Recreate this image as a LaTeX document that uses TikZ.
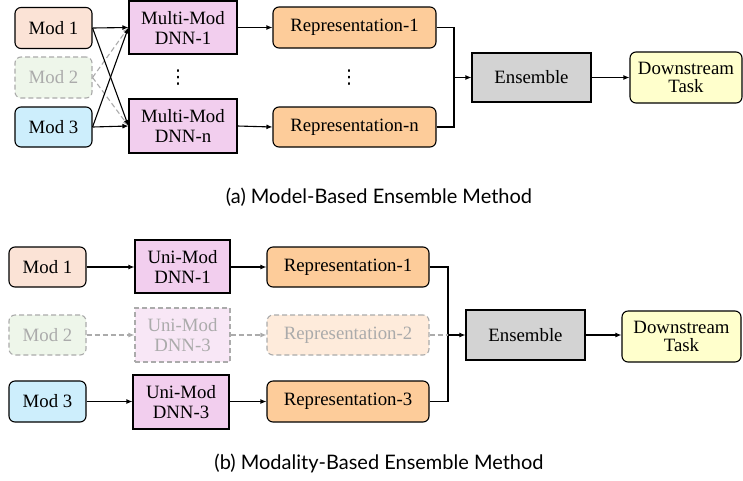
\documentclass[tikz,border=0pt]{standalone}
\usepackage{fontspec}
\setmainfont{Liberation Serif}
\newfontfamily\capfont{Lato}
\newfontfamily\symfont{DejaVu Sans}
\usetikzlibrary{arrows.meta}
\definecolor{cmodA}{HTML}{FBE3D6}
\definecolor{cmodB}{HTML}{EEF6EA}
\definecolor{cmodC}{HTML}{CDEEFC}
\definecolor{cdnn}{HTML}{F2CEEE}
\definecolor{cdnnf}{HTML}{F8E7F6}
\definecolor{crep}{HTML}{FDCC9A}
\definecolor{crepf}{HTML}{FEEBDB}
\definecolor{cens}{HTML}{D3D3D3}
\definecolor{cds}{HTML}{FFFFCC}
\definecolor{cfade}{HTML}{ABABAB}
\tikzset{
  x=1pt, y=-1pt,
  boxbase/.style={draw=black, line width=1.1pt, align=center, inner sep=0pt,
    font=\fontsize{18.8}{20}\selectfont},
  rbox/.style={boxbase, rounded corners=6pt},
  sbox/.style={boxbase},
  faded/.style={draw=cfade, dash pattern=on 5pt off 3pt, text=cfade},
  conn/.style={line width=1.1pt, -{Latex[length=6pt,width=5pt]}},
  plainline/.style={line width=1.1pt},
  fconn/.style={line width=1.1pt, draw=cfade, dash pattern=on 5pt off 3pt, -{Latex[length=6pt,width=5pt]}},
  fline/.style={line width=1.1pt, draw=cfade, dash pattern=on 5pt off 3pt},
  captext/.style={font=\capfont\fontsize{20}{22}\selectfont, inner sep=0pt},
  vdotsnode/.style={font=\symfont\fontsize{19}{19}\selectfont, inner sep=0pt}
}
\begin{document}
\begin{tikzpicture}
\useasboundingbox[fill=white] (0,0) rectangle (743,480);
% ---------- panel (a)
\node[rbox, fill=cmodA, minimum width=77pt, minimum height=41pt] (a1) at (53.5,28) {Mod 1};
\node[rbox, faded, fill=cmodB, minimum width=77pt, minimum height=41pt] (a2) at (53.5,77.5) {Mod 2};
\node[rbox, fill=cmodC, minimum width=77pt, minimum height=40pt] (a3) at (53.5,127) {Mod 3};
\node[sbox, fill=cdnn, minimum width=108pt, minimum height=53pt] (d1) at (183,27.5) {Multi-Mod\\DNN-1};
\node[sbox, fill=cdnn, minimum width=108pt, minimum height=54pt] (dn) at (183,126) {Multi-Mod\\DNN-n};
\node[vdotsnode] (dd) at (178,78) {⋮};
\node[rbox, fill=crep, minimum width=163pt, minimum height=41pt] (r1) at (354.5,27.5) {Representation-1};
\node[rbox, fill=crep, minimum width=163pt, minimum height=40pt] (rn) at (354.5,127) {Representation-n};
\node[vdotsnode] (rd) at (349,78) {⋮};
\node[sbox, fill=cens, minimum width=119pt, minimum height=49pt] (ea) at (531.5,77.5) {Ensemble};
\node[rbox, fill=cds, minimum width=112pt, minimum height=51pt, font=\fontsize{18.8}{18.5}\selectfont] (ta) at (686,77.5) {Downstream\\Task};
\coordinate (ja) at (454,77.5);
\draw[fconn] (a2.east) -- (d1.west);
\draw[fconn] (a2.east) -- (dn.west);
\draw[conn] (a1.east) -- (d1.west);
\draw[conn] (a1.east) -- (dn.west);
\draw[conn] (a3.east) -- (d1.west);
\draw[conn] (a3.east) -- (dn.west);
\draw[conn] (d1.east) -- (r1.west);
\draw[conn] (dn.east) -- (rn.west);
\draw[plainline] (r1.east) -| (ja);
\draw[plainline] (rn.east) -| (ja);
\draw[conn] (ja) -- (ea.west);
\draw[conn] (ea.east) -- (ta.west);
\node[captext] (ca) at (379,197) {(a) Model-Based Ensemble Method};
% ---------- panel (b)
\node[rbox, fill=cmodA, minimum width=77pt, minimum height=40pt] (b1) at (47.5,267) {Mod 1};
\node[rbox, faded, fill=cmodB, minimum width=77pt, minimum height=40pt] (b2) at (47.5,335) {Mod 2};
\node[rbox, fill=cmodC, minimum width=77pt, minimum height=41pt] (b3) at (47.5,401.5) {Mod 3};
\node[sbox, fill=cdnn, minimum width=95pt, minimum height=53pt] (u1) at (182.5,266.5) {Uni-Mod\\DNN-1};
\node[sbox, faded, fill=cdnnf, minimum width=95pt, minimum height=54pt] (u2) at (182.5,335) {Uni-Mod\\DNN-3};
\node[sbox, fill=cdnn, minimum width=96pt, minimum height=54pt] (u3) at (181,402) {Uni-Mod\\DNN-3};
\node[rbox, fill=crep, minimum width=162pt, minimum height=40pt] (s1) at (348,267) {Representation-1};
\node[rbox, faded, fill=crepf, minimum width=162pt, minimum height=40pt] (s2) at (348,335) {Representation-2};
\node[rbox, fill=crep, minimum width=162pt, minimum height=41pt] (s3) at (348,401.5) {Representation-3};
\node[sbox, fill=cens, minimum width=119pt, minimum height=50pt] (eb) at (525.5,335) {Ensemble};
\node[rbox, fill=cds, minimum width=119pt, minimum height=51pt, font=\fontsize{18.8}{18.5}\selectfont] (tb) at (681.5,336.5) {Downstream\\Task};
\coordinate (jb) at (448,335);
\draw[conn] (b1.east) -- (b1.east -| u1.west);
\draw[fconn] (b2.east) -- (u2.west);
\draw[conn] (b3.east) -- (b3.east -| u3.west);
\draw[conn] (u1.east |- s1.west) -- (s1.west);
\draw[fconn] (u2.east) -- (s2.west);
\draw[conn] (u3.east |- s3.west) -- (s3.west);
\draw[plainline] (s1.east) -| (jb);
\draw[plainline] (s3.east) -| (jb);
\draw[fline] (s2.east) -- (jb);
\draw[conn] (jb) -- (eb.west);
\draw[conn] (eb.east) -- (eb.east -| tb.west);
\node[captext] (cb) at (379,463) {(b) Modality-Based Ensemble Method};
\end{tikzpicture}
\end{document}
